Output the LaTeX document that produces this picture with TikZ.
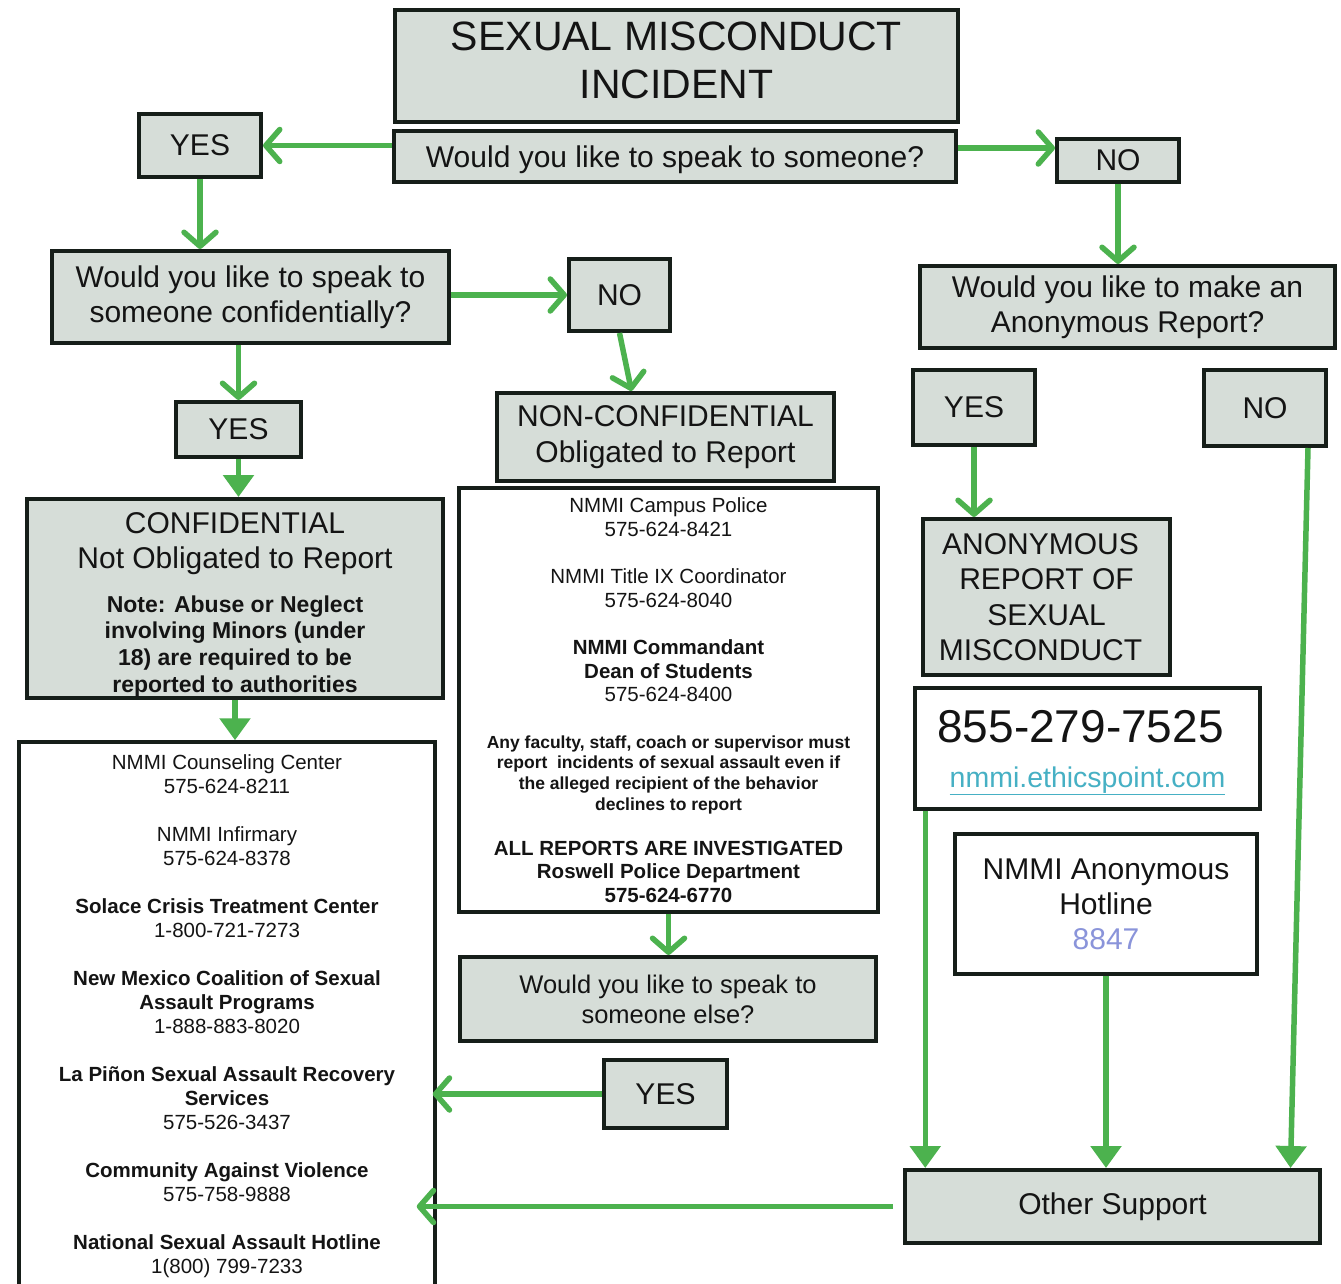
\documentclass[tikz,border=0pt]{standalone}
\usepackage{fontspec}
\setmainfont{Liberation Sans}
\usetikzlibrary{arrows.meta,calc}
\definecolor{boxgrey}{RGB}{214,221,216}
\definecolor{ink}{RGB}{22,30,25}
\definecolor{txt}{RGB}{20,20,20}
\definecolor{arrgreen}{RGB}{76,178,78}
\definecolor{linkteal}{RGB}{70,176,196}
\definecolor{numblue}{RGB}{138,148,218}
\newcommand\fsBig{\mdseries\fontsize{30}{35}\selectfont}
\newcommand\fsSmall{\bfseries\fontsize{17.5}{20.7}\selectfont}
\newcommand\fsPhone{\fontsize{46}{50}\selectfont}
\tikzset{
  gbox/.style={draw=ink, line width=4pt, fill=boxgrey, align=center, inner sep=0pt, text=txt},
  wbox/.style={draw=ink, line width=3.5pt, fill=white, align=center, inner sep=0pt, text=txt},
  barb/.style={draw=arrgreen, line width=5.5pt, -{Straight Barb[length=14pt,width=32pt,round]}},
  tri/.style={draw=arrgreen, line width=5.5pt, -{Triangle[length=22pt,width=30pt]}},
  big/.style={font=\fontsize{30}{35}\selectfont},
}
\begin{document}
\begin{tikzpicture}[x=1pt,y=-1pt]
\fill[white] (0,0) rectangle (1341,1284);
\useasboundingbox (0,0) rectangle (1341,1284);

% top
\node[gbox, minimum width=563pt, minimum height=112pt, font=\fontsize{41}{48}\selectfont] (title) at (676.5,66) {SEXUAL MISCONDUCT\\\rule[-12pt]{0pt}{12pt}INCIDENT};
\node[gbox, big, minimum width=562pt, minimum height=51pt] (q1) at (675,156.5) {\rule{0pt}{28pt}Would you like to speak to someone?};
\node[gbox, big, minimum width=122pt, minimum height=63pt] (yes1) at (200,145.5) {YES};
\node[gbox, big, minimum width=122pt, minimum height=43pt] (no1) at (1118,160.5) {NO};

% second row
\node[gbox, big, minimum width=397pt, minimum height=92pt] (q2) at (250.5,297) {Would you like to speak to\\someone confidentially?};
\node[gbox, big, minimum width=101pt, minimum height=72pt] (no2) at (619.5,295) {NO};
\node[gbox, big, minimum width=415pt, minimum height=82pt] (q3) at (1127.5,307) {Would you like to make an\\Anonymous Report?};

% third row
\node[gbox, big, minimum width=125pt, minimum height=55pt] (yes2) at (238.5,429.5) {YES};
\node[gbox, font=\fontsize{30}{36}\selectfont, minimum width=337pt, minimum height=88pt] (nonconf) at (665.5,437) {NON-CONFIDENTIAL\\Obligated to Report};
\node[gbox, big, minimum width=122pt, minimum height=75pt] (yes3) at (974,407.5) {YES};
\node[gbox, big, minimum width=122pt, minimum height=76pt] (no3) at (1265,408) {NO};

% confidential
\node[gbox, font=\bfseries\fontsize{23}{26.6}\selectfont, minimum width=416pt, minimum height=199pt] (conf) at (235,598.5)
  {\fsBig\rule{0pt}{33.5pt}CONFIDENTIAL\\[8.5pt]\fsBig Not Obligated to Report\\[17pt]
   Note: Abuse or Neglect\\involving Minors (under\\18) are required to be\\reported to authorities};

% non-confidential list
\node[wbox, minimum width=419pt, minimum height=424pt, font=\fontsize{20.5}{23.5}\selectfont] (nclist) at (668.5,700)
  {NMMI Campus Police\\575-624-8421\\[24pt]
   NMMI Title IX Coordinator\\575-624-8040\\[24pt]
   \textbf{NMMI Commandant}\\\textbf{Dean of Students}\\575-624-8400\\[23pt]
   \fsSmall Any faculty, staff, coach or supervisor must\\[-2.8pt]
   \fsSmall report\ \ incidents of sexual assault even if\\[-2.8pt]
   \fsSmall the alleged recipient of the behavior\\[-2.8pt]
   \fsSmall declines to report\\[21.5pt]
   \textbf{ALL REPORTS ARE INVESTIGATED}\\\textbf{Roswell Police Department}\\\textbf{575-624-6770}};

% anonymous column
\node[gbox, font=\fontsize{30}{35.5}\selectfont, minimum width=247pt, minimum height=156pt] (anon) at (1046.5,597) {ANONYMOUS\hspace*{12pt}\\REPORT OF\hspace*{12pt}\\SEXUAL\hspace*{12pt}\\MISCONDUCT\hspace*{12pt}};
\node[wbox, font=\fontsize{28.5}{45}\selectfont, minimum width=345pt, minimum height=121pt] (phone) at (1087.5,748.5)
  {\fsPhone\rule{0pt}{40pt}855-279-7525\hspace*{14pt}\\\textcolor{linkteal}{\underline{nmmi.ethicspoint.com}}};
\node[wbox, big, minimum width=302pt, minimum height=140pt] (hotline) at (1106,904) {NMMI Anonymous\\Hotline\\\textcolor{numblue}{8847}};

% left list
\node[wbox, minimum width=416pt, minimum height=548pt, font=\fontsize{20.5}{24}\selectfont] (clist) at (227,1016)
  {NMMI Counseling Center\\575-624-8211\\[24pt]
   NMMI Infirmary\\575-624-8378\\[24pt]
   \textbf{Solace Crisis Treatment Center}\\1-800-721-7273\\[24pt]
   \textbf{New Mexico Coalition of Sexual}\\\textbf{Assault Programs}\\1-888-883-8020\\[24pt]
   \textbf{La Piñon Sexual Assault Recovery}\\\textbf{Services}\\575-526-3437\\[24pt]
   \textbf{Community Against Violence}\\575-758-9888\\[24pt]
   \textbf{National Sexual Assault Hotline}\\1(800) 799-7233};

% bottom middle
\node[gbox, font=\fontsize{25.5}{30}\selectfont, minimum width=416pt, minimum height=84pt] (q4) at (668,999) {Would you like to speak to\\someone else?};
\node[gbox, big, minimum width=123pt, minimum height=68pt] (yes4) at (665.5,1094) {YES};
\node[gbox, big, minimum width=415pt, minimum height=73pt] (other) at (1112.5,1206.5) {Other Support};

% helper coordinates
\coordinate (noin) at ([yshift=12.5pt]no1.west);
\coordinate (no2out) at ([xshift=12pt]no2.south);
\coordinate (no3out) at ([xshift=43pt]no3.south);
\coordinate (othR) at ([xshift=178pt]other.north);
\coordinate (phout) at ([xshift=12pt]phone.south west);
\coordinate (othL) at ([xshift=-10pt]other.west);
\coordinate (clR) at ([xshift=-20pt]other.west -| clist.east);
\coordinate (clR2) at ([xshift=-4pt]yes4.west -| clist.east);

% connectors
\draw[barb] (yes1.east -| q1.west) -- (yes1.east);
\draw[barb] (noin -| q1.east) -- (noin);
\draw[barb] (yes1.south) -- (yes1.south |- q2.north);
\draw[barb] (no2.west -| q2.east) -- (no2.west);
\draw[barb] (no2.south) -- (no2out |- nonconf.north);
\draw[barb] (no1.south) -- (no1.south |- q3.north);
\draw[barb] (yes2.north |- q2.south) -- (yes2.north);
\draw[tri] (yes2.south) -- (yes2.south |- conf.north);
\draw[tri] (conf.south) -- (conf.south |- clist.north);
\draw[barb] (yes3.south) -- (yes3.south |- anon.north);
\draw[barb] (nclist.south) -- (nclist.south |- q4.north);
\draw[barb] (yes4.west) -- (clR2);
\draw[barb] (othL) -- (clR);
\draw[tri] (no3out) -- (othR);
\draw[tri] (phout) -- (phout |- other.north);
\draw[tri] (hotline.south) -- (hotline.south |- other.north);
\end{tikzpicture}
\end{document}
